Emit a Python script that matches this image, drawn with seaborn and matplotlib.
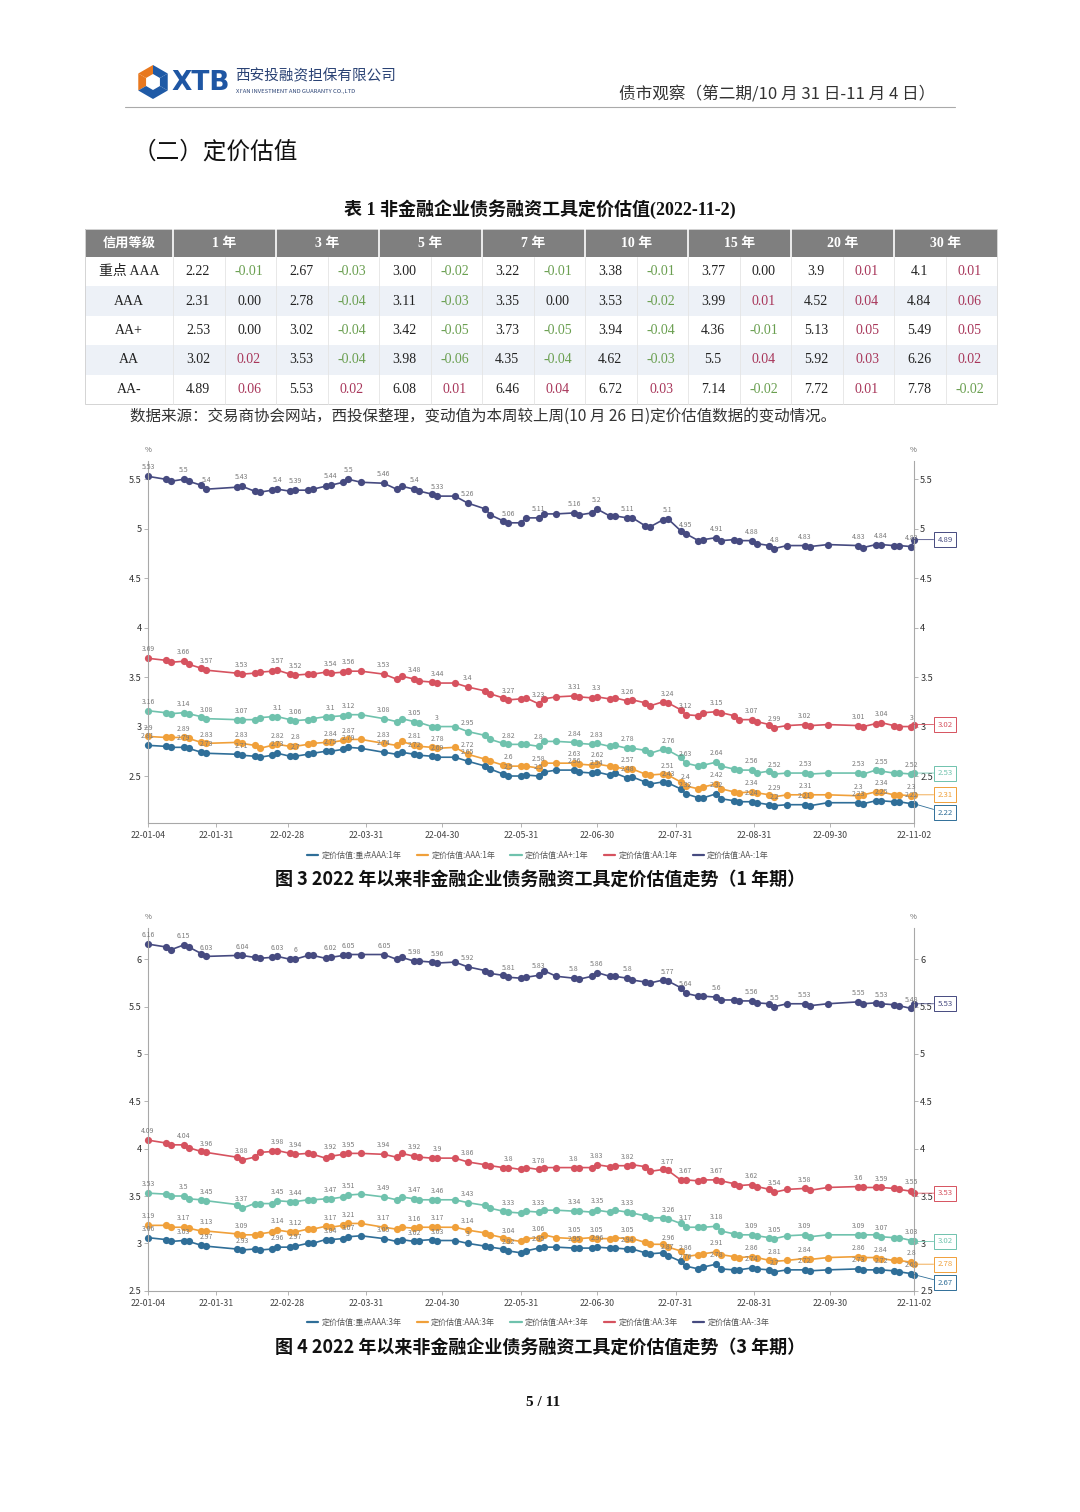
import pandas as pd
import seaborn as sns
import matplotlib.pyplot as plt
import matplotlib.dates as mdates
from matplotlib.patches import Rectangle, Polygon
from matplotlib.ticker import FuncFormatter
from matplotlib.lines import Line2D
import numpy as np

sns.set_style('white')
plt.rcParams['font.family'] = ['Noto Sans CJK SC', 'DejaVu Sans']
plt.rcParams['axes.unicode_minus'] = False
SERIF = ['Liberation Serif', 'Noto Sans CJK SC']

###############################################################################
# data
###############################################################################
GRADES = ['重点 AAA', 'AAA', 'AA+', 'AA', 'AA-']
TENORS = ['1 年', '3 年', '5 年', '7 年', '10 年', '15 年', '20 年', '30 年']

VAL_KEY_AAA = ['2.22', '2.67', '3.00', '3.22', '3.38', '3.77', '3.9', '4.1']
CHG_KEY_AAA = ['-0.01', '-0.03', '-0.02', '-0.01', '-0.01', '0.00', '0.01', '0.01']
VAL_AAA = ['2.31', '2.78', '3.11', '3.35', '3.53', '3.99', '4.52', '4.84']
CHG_AAA = ['0.00', '-0.04', '-0.03', '0.00', '-0.02', '0.01', '0.04', '0.06']
VAL_AAP = ['2.53', '3.02', '3.42', '3.73', '3.94', '4.36', '5.13', '5.49']
CHG_AAP = ['0.00', '-0.04', '-0.05', '-0.05', '-0.04', '-0.01', '0.05', '0.05']
VAL_AA = ['3.02', '3.53', '3.98', '4.35', '4.62', '5.5', '5.92', '6.26']
CHG_AA = ['0.02', '-0.04', '-0.06', '-0.04', '-0.03', '0.04', '0.03', '0.02']
VAL_AAM = ['4.89', '5.53', '6.08', '6.46', '6.72', '7.14', '7.72', '7.78']
CHG_AAM = ['0.06', '0.02', '0.01', '0.04', '0.03', '-0.02', '0.01', '-0.02']

DATES = [
    '2022-01-04', '2022-01-11', '2022-01-13', '2022-01-18', '2022-01-20', '2022-01-25', '2022-01-27',
    '2022-02-08', '2022-02-10', '2022-02-15', '2022-02-17', '2022-02-22', '2022-02-24',
    '2022-03-01', '2022-03-03', '2022-03-08', '2022-03-10', '2022-03-15', '2022-03-17', '2022-03-22',
    '2022-03-24', '2022-03-29',
    '2022-04-07', '2022-04-12', '2022-04-14', '2022-04-19', '2022-04-21', '2022-04-26', '2022-04-28',
    '2022-05-05', '2022-05-10', '2022-05-17', '2022-05-19', '2022-05-24', '2022-05-26', '2022-05-31',
    '2022-06-02', '2022-06-07', '2022-06-09', '2022-06-14', '2022-06-21', '2022-06-23', '2022-06-28',
    '2022-06-30',
    '2022-07-05', '2022-07-07', '2022-07-12', '2022-07-14', '2022-07-19', '2022-07-21', '2022-07-26',
    '2022-07-28',
    '2022-08-02', '2022-08-04', '2022-08-09', '2022-08-11', '2022-08-16', '2022-08-18', '2022-08-23',
    '2022-08-25', '2022-08-30',
    '2022-09-01', '2022-09-06', '2022-09-08', '2022-09-13', '2022-09-20', '2022-09-22', '2022-09-29',
    '2022-10-11', '2022-10-13', '2022-10-18', '2022-10-20', '2022-10-25', '2022-10-27',
    '2022-11-01', '2022-11-02']

# 1 year
KEY_1Y = [2.81, 2.80, 2.79, 2.79, 2.78, 2.74, 2.73,
          2.72, 2.71, 2.70, 2.69, 2.71, 2.73,
          2.70, 2.70, 2.72, 2.73, 2.75, 2.75, 2.77, 2.79, 2.78,
          2.74, 2.72, 2.74, 2.72, 2.71, 2.70, 2.69,
          2.69, 2.65, 2.60, 2.57, 2.52, 2.50, 2.50,
          2.51, 2.50, 2.54, 2.56, 2.56, 2.54, 2.53, 2.54,
          2.51, 2.53, 2.48, 2.49, 2.44, 2.42, 2.44, 2.43,
          2.37, 2.32, 2.28, 2.28, 2.32, 2.27, 2.25, 2.24, 2.24,
          2.23, 2.21, 2.20, 2.21, 2.21, 2.20, 2.23,
          2.23, 2.22, 2.25, 2.25, 2.24, 2.24,
          2.22, 2.22]
AAA_1Y = [2.90, 2.89, 2.89, 2.89, 2.88, 2.84, 2.83,
          2.84, 2.83, 2.81, 2.78, 2.81, 2.82,
          2.80, 2.80, 2.82, 2.83, 2.84, 2.84, 2.86, 2.87, 2.87,
          2.83, 2.81, 2.85, 2.81, 2.80, 2.79, 2.78,
          2.79, 2.72, 2.67, 2.65, 2.61, 2.60, 2.60,
          2.60, 2.58, 2.63, 2.63, 2.63, 2.62, 2.61, 2.62,
          2.60, 2.59, 2.57, 2.57, 2.52, 2.51, 2.52, 2.51,
          2.44, 2.40, 2.37, 2.39, 2.42, 2.37, 2.34, 2.33, 2.34,
          2.33, 2.31, 2.29, 2.31, 2.31, 2.31, 2.31,
          2.30, 2.31, 2.34, 2.34, 2.31, 2.31,
          2.30, 2.31]
AAP_1Y = [3.16, 3.14, 3.13, 3.14, 3.13, 3.10, 3.08,
          3.07, 3.07, 3.07, 3.09, 3.10, 3.10,
          3.07, 3.06, 3.07, 3.08, 3.10, 3.10, 3.11, 3.12, 3.12,
          3.08, 3.05, 3.08, 3.05, 3.04, 3.00, 3.00,
          3.00, 2.95, 2.91, 2.87, 2.83, 2.82, 2.82,
          2.82, 2.80, 2.85, 2.85, 2.84, 2.83, 2.82, 2.83,
          2.80, 2.81, 2.78, 2.78, 2.76, 2.73, 2.77, 2.76,
          2.69, 2.63, 2.60, 2.61, 2.64, 2.60, 2.57, 2.56, 2.56,
          2.53, 2.55, 2.52, 2.53, 2.53, 2.52, 2.53,
          2.53, 2.52, 2.56, 2.55, 2.53, 2.53,
          2.52, 2.53]
AA_1Y = [3.69, 3.67, 3.65, 3.66, 3.63, 3.59, 3.57,
         3.54, 3.53, 3.54, 3.55, 3.56, 3.57,
         3.53, 3.52, 3.53, 3.53, 3.55, 3.54, 3.55, 3.56, 3.56,
         3.53, 3.48, 3.51, 3.48, 3.46, 3.45, 3.44,
         3.44, 3.40, 3.36, 3.33, 3.29, 3.27, 3.28,
         3.29, 3.23, 3.28, 3.30, 3.31, 3.30, 3.29, 3.30,
         3.28, 3.29, 3.26, 3.27, 3.24, 3.21, 3.25, 3.24,
         3.17, 3.12, 3.11, 3.14, 3.15, 3.14, 3.11, 3.07, 3.07,
         3.05, 3.02, 2.99, 3.01, 3.02, 3.01, 3.02,
         3.01, 3.00, 3.03, 3.04, 3.01, 3.00,
         3.00, 3.02]
AAM_1Y = [5.53, 5.50, 5.48, 5.50, 5.48, 5.44, 5.40,
          5.42, 5.43, 5.38, 5.37, 5.39, 5.40,
          5.38, 5.39, 5.39, 5.40, 5.43, 5.44, 5.47, 5.50, 5.47,
          5.46, 5.40, 5.43, 5.40, 5.38, 5.35, 5.33,
          5.33, 5.26, 5.20, 5.14, 5.08, 5.06, 5.06,
          5.11, 5.11, 5.15, 5.15, 5.16, 5.14, 5.16, 5.20,
          5.13, 5.13, 5.11, 5.11, 5.03, 5.02, 5.09, 5.10,
          4.98, 4.95, 4.88, 4.89, 4.91, 4.88, 4.89, 4.88, 4.88,
          4.85, 4.83, 4.80, 4.83, 4.83, 4.82, 4.84,
          4.83, 4.81, 4.84, 4.84, 4.83, 4.83,
          4.82, 4.89]

# 3 year
KEY_3Y = [3.06, 3.04, 3.02, 3.03, 3.02, 2.98, 2.97,
          2.94, 2.93, 2.94, 2.93, 2.94, 2.96,
          2.96, 2.97, 3.00, 3.00, 3.04, 3.04, 3.05, 3.07, 3.08,
          3.05, 3.02, 3.04, 3.02, 3.03, 3.04, 3.03,
          3.03, 3.00, 2.97, 2.96, 2.94, 2.92, 2.90,
          2.92, 2.95, 2.96, 2.96, 2.95, 2.95, 2.95, 2.96,
          2.95, 2.95, 2.94, 2.94, 2.90, 2.89, 2.90, 2.87,
          2.81, 2.76, 2.73, 2.75, 2.78, 2.73, 2.72, 2.72, 2.74,
          2.73, 2.72, 2.70, 2.72, 2.72, 2.71, 2.72,
          2.73, 2.72, 2.72, 2.72, 2.71, 2.70,
          2.68, 2.67]
AAA_3Y = [3.19, 3.19, 3.17, 3.17, 3.16, 3.13, 3.13,
          3.10, 3.09, 3.09, 3.10, 3.12, 3.14,
          3.12, 3.12, 3.15, 3.15, 3.18, 3.17, 3.19, 3.21, 3.21,
          3.17, 3.15, 3.17, 3.16, 3.17, 3.17, 3.17,
          3.17, 3.14, 3.11, 3.09, 3.06, 3.04, 3.02,
          3.05, 3.06, 3.09, 3.06, 3.05, 3.05, 3.06, 3.05,
          3.05, 3.06, 3.05, 3.05, 3.01, 2.99, 2.99, 2.96,
          2.92, 2.86, 2.88, 2.89, 2.91, 2.88, 2.86, 2.85, 2.86,
          2.85, 2.82, 2.81, 2.82, 2.84, 2.83, 2.85,
          2.86, 2.85, 2.85, 2.84, 2.82, 2.82,
          2.80, 2.78]
AAP_3Y = [3.53, 3.52, 3.50, 3.50, 3.47, 3.46, 3.45,
          3.41, 3.37, 3.42, 3.42, 3.42, 3.45,
          3.44, 3.44, 3.46, 3.46, 3.47, 3.47, 3.49, 3.51, 3.52,
          3.49, 3.46, 3.49, 3.47, 3.46, 3.46, 3.46,
          3.46, 3.43, 3.40, 3.37, 3.34, 3.33, 3.32,
          3.34, 3.33, 3.35, 3.35, 3.34, 3.34, 3.33, 3.35,
          3.33, 3.35, 3.33, 3.32, 3.29, 3.27, 3.27, 3.26,
          3.21, 3.17, 3.17, 3.17, 3.18, 3.13, 3.10, 3.09, 3.09,
          3.08, 3.06, 3.05, 3.08, 3.09, 3.07, 3.09,
          3.09, 3.09, 3.09, 3.07, 3.06, 3.06,
          3.03, 3.02]
AA_3Y = [4.09, 4.06, 4.04, 4.04, 4.01, 3.97, 3.96,
         3.91, 3.88, 3.91, 3.96, 3.97, 3.98,
         3.95, 3.94, 3.95, 3.94, 3.90, 3.92, 3.94, 3.95, 3.95,
         3.94, 3.91, 3.95, 3.92, 3.91, 3.90, 3.90,
         3.90, 3.86, 3.83, 3.82, 3.80, 3.80, 3.78,
         3.80, 3.78, 3.80, 3.80, 3.80, 3.80, 3.80, 3.83,
         3.81, 3.82, 3.82, 3.83, 3.81, 3.76, 3.78, 3.77,
         3.67, 3.67, 3.66, 3.67, 3.67, 3.66, 3.63, 3.61, 3.62,
         3.60, 3.57, 3.54, 3.57, 3.58, 3.56, 3.59,
         3.60, 3.59, 3.59, 3.59, 3.58, 3.57,
         3.55, 3.53]
AAM_3Y = [6.16, 6.13, 6.10, 6.15, 6.13, 6.06, 6.03,
          6.04, 6.04, 6.02, 6.01, 6.02, 6.03,
          6.00, 6.00, 6.04, 6.04, 6.01, 6.02, 6.04, 6.05, 6.05,
          6.05, 6.00, 6.02, 5.98, 5.98, 5.97, 5.96,
          5.97, 5.92, 5.88, 5.85, 5.83, 5.81, 5.80,
          5.81, 5.83, 5.88, 5.82, 5.80, 5.79, 5.82, 5.86,
          5.82, 5.82, 5.80, 5.78, 5.76, 5.75, 5.78, 5.77,
          5.70, 5.64, 5.61, 5.61, 5.60, 5.57, 5.57, 5.56, 5.56,
          5.54, 5.53, 5.50, 5.53, 5.53, 5.51, 5.53,
          5.55, 5.53, 5.54, 5.53, 5.52, 5.51,
          5.48, 5.53]

SERIES_KEYS = ['重点AAA', 'AAA', 'AA+', 'AA', 'AA-']
COLORS = ['#2f6e98', '#f0a03a', '#6fc2ad', '#d6525f', '#464a80']
X_TICKS = ['2022-01-04', '2022-01-31', '2022-02-28', '2022-03-31', '2022-04-30', '2022-05-31',
           '2022-06-30', '2022-07-31', '2022-08-31', '2022-09-30', '2022-11-02']
LABEL_IDX = [0, 3, 6, 8, 12, 14, 18, 20, 22, 25, 28, 30, 34, 37, 40, 43, 46, 51, 53, 56,
             60, 63, 65, 68, 71, 74]

###############################################################################
# page
###############################################################################
W, H = 1080, 1512
fig = plt.figure(figsize=(W / 100, H / 100), dpi=100)
fig.patch.set_facecolor('white')
bg = fig.add_axes([0, 0, 1, 1])
bg.set_xlim(0, W)
bg.set_ylim(H, 0)
bg.axis('off')

# logo
cx, cy = 153, 82
ang = np.deg2rad([90, 150, 210, 270, 330, 30, 90])
for i in range(6):
    a0, a1 = ang[i], ang[i + 1]
    pts = [(cx + 17 * np.cos(a0), cy - 17 * np.sin(a0)), (cx + 17 * np.cos(a1), cy - 17 * np.sin(a1)),
           (cx + 8 * np.cos(a1), cy - 8 * np.sin(a1)), (cx + 8 * np.cos(a0), cy - 8 * np.sin(a0))]
    bg.add_patch(Polygon(pts, closed=True, fc='#e8781e' if i < 2 else '#1f5aa6', ec='none'))
bg.text(171, 83, 'XTB', fontsize=19, fontweight='bold', color='#1f56a3', va='center', ha='left',
        family='DejaVu Sans')
bg.text(235, 76, '西安投融资担保有限公司', fontsize=10.5, color='#2a4274', va='center', ha='left')
bg.text(236, 91, "XI'AN INVESTMENT AND GUARANTY CO.,LTD", fontsize=4.2, color='#2a4274',
        va='center', ha='left')
bg.text(935, 94, '债市观察（第二期/10 月 31 日-11 月 4 日）', fontsize=12, color='#333333',
        va='center', ha='right')
bg.plot([125, 955], [107, 107], color='#aaaaaa', lw=0.8)

bg.text(133, 152, '（二）定价估值', fontsize=17, color='#111111', va='center', ha='left')

# table
bg.text(540, 209, '表 1 非金融企业债务融资工具定价估值(2022-11-2)', fontsize=13, fontweight='bold',
        va='center', ha='center', color='#111111', family=SERIF)
tx0, tx1, first_w, grp_w = 85, 997, 88, 103
head_top, head_bot, row_h = 229, 257, 29.4
bg.add_patch(Rectangle((tx0, head_top), tx1 - tx0, head_bot - head_top, fc='#7f7f7f', ec='none'))
bg.text(tx0 + first_w / 2, 243, '信用等级', fontsize=9.5, fontweight='bold', color='white',
        va='center', ha='center')
for i, t in enumerate(TENORS):
    gx = tx0 + first_w + i * grp_w
    bg.plot([gx, gx], [head_top, head_bot], color='white', lw=1.2)
    bg.text(gx + grp_w / 2, 243, t, fontsize=10, fontweight='bold', color='white',
            va='center', ha='center', family=SERIF)

rows = [(VAL_KEY_AAA, CHG_KEY_AAA), (VAL_AAA, CHG_AAA), (VAL_AAP, CHG_AAP),
        (VAL_AA, CHG_AA), (VAL_AAM, CHG_AAM)]
for r, (grade, (vals, chgs)) in enumerate(zip(GRADES, rows)):
    y0 = head_bot + r * row_h
    yc = y0 + row_h / 2
    if r % 2 == 1:
        bg.add_patch(Rectangle((tx0, y0), tx1 - tx0, row_h, fc='#edf1f7', ec='none'))
    bg.text(tx0 + first_w / 2, yc, grade, fontsize=10, color='#222222', va='center', ha='center',
            family=SERIF)
    for i, (v, c) in enumerate(zip(vals, chgs)):
        gx = tx0 + first_w + i * grp_w
        cf = float(c)
        ccol = '#6a9f50' if cf < 0 else ('#a8365a' if cf > 0 else '#222222')
        bg.text(gx + 25, yc, v, fontsize=10, color='#222222', va='center', ha='center',
                family=SERIF)
        bg.text(gx + 76, yc, c, fontsize=10, color=ccol, va='center', ha='center', family=SERIF)
body_bot = head_bot + 5 * row_h
for i in range(17):
    gx = tx0 + first_w + i * grp_w / 2
    bg.plot([gx, gx], [head_bot, body_bot], color='#e4e4e4', lw=0.6)
bg.add_patch(Rectangle((tx0, head_top), tx1 - tx0, body_bot - head_top, fc='none',
                       ec='#d4d4d4', lw=0.7))
bg.text(130, 416, '数据来源：交易商协会网站，西投保整理，变动值为本周较上周(10 月 26 日)定价估值数据的变动情况。',
        fontsize=11.2, color='#333333', va='center', ha='left')


###############################################################################
# charts
###############################################################################
def draw_chart(top, bottom, series, tenor, ylim, yticks, box_shift, legend_y, caption, cap_y):
    ax = fig.add_axes([148 / W, 1 - bottom / H, 766 / W, (bottom - top) / H])
    names = ['定价估值:%s:%s' % (k, tenor) for k in SERIES_KEYS]
    df = pd.concat([pd.DataFrame({'date': pd.to_datetime(DATES), 'value': vals, 'series': n})
                    for n, vals in zip(names, series)])
    sns.lineplot(data=df, x='date', y='value', hue='series', hue_order=names, palette=COLORS,
                 marker='o', markersize=5.2, markeredgewidth=0, linewidth=1.2,
                 legend=False, errorbar=None, ax=ax)
    for ln in ax.lines:
        ln.set_clip_on(False)

    dates = pd.to_datetime(DATES)
    for vals, col in zip(series, COLORS):
        for i in LABEL_IDX:
            ax.annotate(f'{vals[i]:g}', (dates[i], vals[i]), xytext=(0, 3.5),
                        textcoords='offset points', ha='center', va='bottom', fontsize=5.0,
                        color='#7a7a7a')
    # end-of-series value boxes
    for vals, col, sh in zip(series, COLORS, box_shift):
        ax.annotate(f'{vals[-1]:g}', (dates[-1], vals[-1]), xytext=(31, sh),
                    textcoords='offset pixels', ha='center', va='center', fontsize=5.6,
                    color=col, annotation_clip=False, zorder=5,
                    bbox=dict(boxstyle='square,pad=0.45', fc='white', ec=col, lw=0.7),
                    arrowprops=dict(arrowstyle='-', color=col, lw=0.6, shrinkA=0, shrinkB=0))

    ax.set_xlim(dates[0], dates[-1])
    ax.set_ylim(*ylim)
    ax.set_yticks(yticks)
    ax.yaxis.set_major_formatter(FuncFormatter(lambda v, p: f'{v:g}'))
    ax.set_xticks(pd.to_datetime(X_TICKS))
    ax.xaxis.set_major_formatter(mdates.DateFormatter('%y-%m-%d'))
    ax.set_xlabel('')
    ax.set_ylabel('')
    ax.set_facecolor('none')
    for s in ['left', 'right', 'bottom']:
        ax.spines[s].set_visible(True)
        ax.spines[s].set_color('#a8a8a8')
        ax.spines[s].set_linewidth(0.8)
    ax.spines['top'].set_visible(False)
    ax.tick_params(axis='y', left=True, right=True, labelleft=True, labelright=True,
                   length=3, width=0.6, color='#a8a8a8', labelsize=6.6, labelcolor='#333333', pad=1.5)
    ax.tick_params(axis='x', bottom=True, length=3, width=0.6, color='#a8a8a8', labelsize=6.3,
                   labelcolor='#444444', pad=3)

    bg.text(148, top - 11, '%', fontsize=5.5, color='#666666', ha='center', va='center')
    bg.text(913, top - 11, '%', fontsize=5.5, color='#666666', ha='center', va='center')
    handles = [Line2D([], [], color=c, lw=1.6) for c in COLORS]
    fig.legend(handles, names, loc='center', bbox_to_anchor=(538 / W, 1 - legend_y / H), ncol=5,
               frameon=False, fontsize=5.8, handlelength=1.4, handletextpad=0.4,
               columnspacing=1.9, labelcolor='#555555')
    bg.text(540, cap_y, caption, fontsize=13, fontweight='bold', color='#111111',
            ha='center', va='center')


draw_chart(461, 823, [KEY_1Y, AAA_1Y, AAP_1Y, AA_1Y, AAM_1Y], '1年', (2.025, 5.685),
           [2.5, 3, 3.5, 4, 4.5, 5, 5.5], [-9, 0, 0, 0, 0], 855,
           '图 3 2022 年以来非金融企业债务融资工具定价估值走势（1 年期）', 879)
draw_chart(928, 1290.7, [KEY_3Y, AAA_3Y, AAP_3Y, AA_3Y, AAM_3Y], '3年', (2.5, 6.33),
           [2.5, 3, 3.5, 4, 4.5, 5, 5.5, 6], [-8, 0, 0, 0, 0], 1322,
           '图 4 2022 年以来非金融企业债务融资工具定价估值走势（3 年期）', 1347)

bg.text(543, 1402, '5 / 11', fontsize=11, fontweight='bold', color='#111111', ha='center',
        va='center', family=SERIF)

fig.savefig('out.png', dpi=100)
